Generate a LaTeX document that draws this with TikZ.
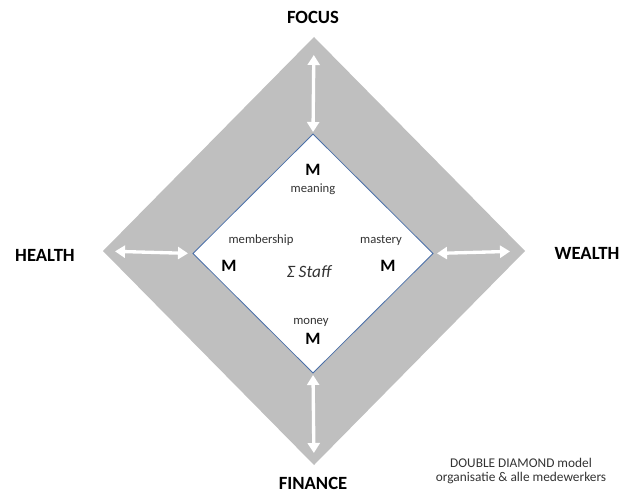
\documentclass[tikz,border=0pt]{standalone}
\usepackage{fontspec}
\setmainfont{Carlito}
\usepackage{tikz}
\usetikzlibrary{arrows.meta,shapes.geometric}
\definecolor{ringgray}{HTML}{BFBFBF}
\definecolor{edgeblue}{HTML}{4A6FA8}
\definecolor{textgray}{HTML}{333333}
\tikzset{
  corner/.style={font=\fontsize{14}{16}\selectfont\bfseries},
  bigm/.style={font=\fontsize{13}{15}\selectfont\bfseries},
  mword/.style={anchor=base, text=textgray, font=\fontsize{9.5}{11}\selectfont},
  link/.style={{Triangle[length=7.5pt,width=9pt]}-{Triangle[length=7.5pt,width=9pt]}, white, line width=2.5pt}
}

\begin{document}
\begin{tikzpicture}[x=0.75pt,y=-0.75pt]
                \useasboundingbox (0,0) rectangle (623,492);

                %the two diamonds, define nodes first
                \node (outer) at (314,251) [diamond, fill=ringgray, inner sep=0pt, outer sep=0pt, minimum width=316.5pt, minimum height=321pt]{};
                \node (inner) at (313,253.5) [diamond, fill=white, draw=edgeblue, line width=0.6pt, inner sep=0pt, outer sep=0pt, minimum width=180pt, minimum height=179.25pt]{};

                %white double arrows between the diamonds
                \draw[link, shorten <=13.5pt, shorten >=1.5pt] (outer.north) -- (inner.north);
                \draw[link, shorten <=9pt, shorten >=3.75pt] (outer.west) -- (inner.west);
                \draw[link, shorten <=11.25pt, shorten >=3pt] (outer.east) -- (inner.east);
                \draw[link, shorten <=9pt, shorten >=1.5pt] (outer.south) -- (inner.south);

                %label the four corners
                \node[corner] (focus) at (313,17) {FOCUS};
                \node[corner] (health) at (45,255) {HEALTH};
                \node[corner] (wealth) at (587,253) {WEALTH};
                \node[corner] (finance) at (313,483) {FINANCE};

                %the four M's inside
                \node[bigm] (mtop) at (313,170) {M};
                \node[mword] (meaning) at (313,192) {meaning};
                \node[mword] (membership) at (261,243) {membership};
                \node[bigm] (mleft) at (229,266) {M};
                \node[mword] (mastery) at (381,243) {mastery};
                \node[bigm] (mright) at (388,266) {M};
                \node[mword] (money) at (311,324) {money};
                \node[bigm] (mbottom) at (313,339) {M};
                \node[anchor=base, text=textgray, font=\fontsize{13}{15}\selectfont\itshape] (staff) at (309,277) {Σ Staff};

                %caption
                \node[align=center, text=textgray, font=\fontsize{10}{10}\selectfont] (caption) at (521,471) {DOUBLE DIAMOND model\\organisatie \& alle medewerkers};
            \end{tikzpicture}
\end{document}
